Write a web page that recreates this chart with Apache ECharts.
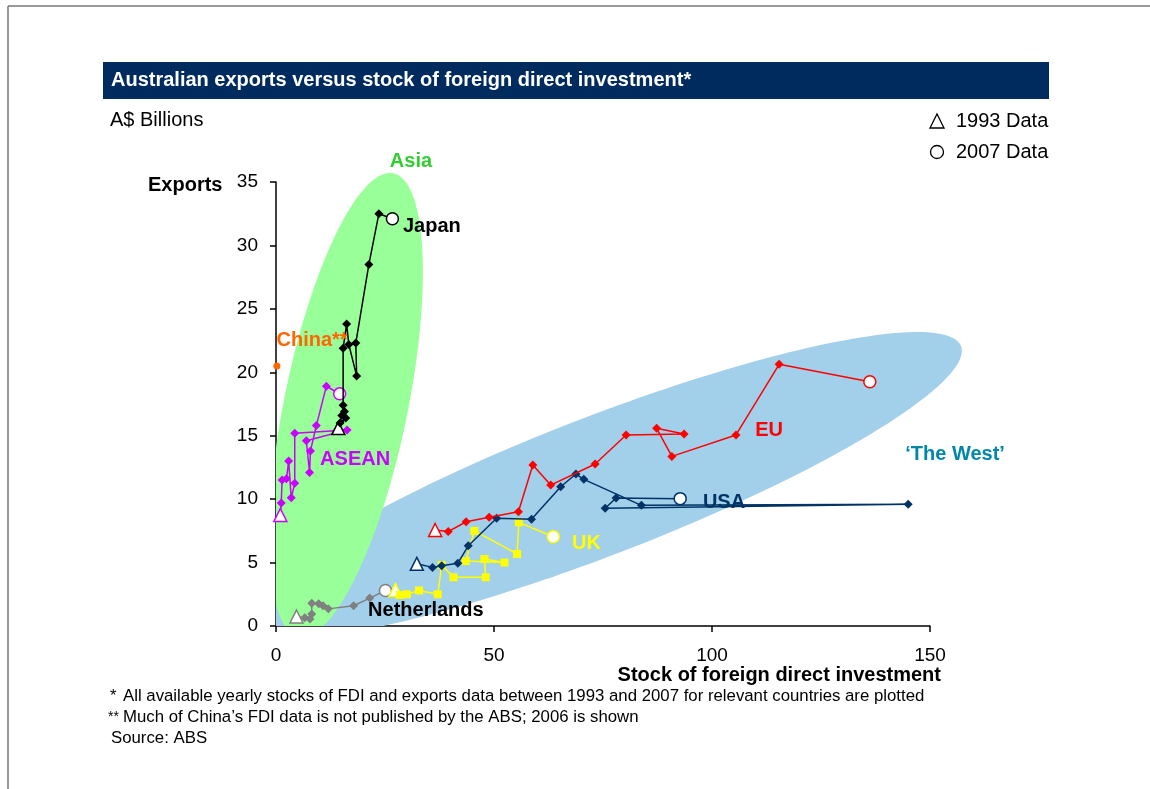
<!DOCTYPE html>
<html>
<head>
<meta charset="utf-8">
<title>Australian exports versus stock of foreign direct investment</title>
<script src="https://cdn.jsdelivr.net/npm/echarts@6/dist/echarts.min.js"></script>
<style>
  html, body { margin: 0; padding: 0; background: #ffffff; }
  #chart { width: 1150px; height: 789px; }
</style>
</head>
<body>
<div id="chart"></div>
<script>
// Stock of foreign direct investment (x) vs Australian exports (y), A$ billions.
// Each list runs from the 1993 observation to the 2007 observation.
const japan = [[14.3,15.6],[16.0,16.4],[14.7,16.0],[15.1,16.6],[15.7,16.9],[15.4,17.4],[15.4,21.9],
               [16.2,23.8],[16.7,22.2],[18.5,19.7],[18.3,22.3],[21.3,28.5],[23.6,32.5],[26.7,32.1]];
const asean = [[1.0,8.75],[1.2,9.7],[1.4,11.5],[2.4,11.6],[2.9,13.0],[3.5,10.1],[4.3,11.25],[4.3,15.2],
               [16.3,15.45],[6.95,14.6],[7.7,12.1],[7.9,13.8],[9.25,15.8],[11.55,18.9],[14.6,18.3]];
const china = [[0.2,20.5]]; // 2006 only
const netherlands = [[4.7,0.75],[6.6,0.65],[7.8,0.55],[8.2,0.95],[8.2,1.8],[9.8,1.75],[10.8,1.6],
                     [12.0,1.35],[17.8,1.6],[21.5,2.2],[25.1,2.8]];
const uk = [[27.4,2.84],[28.4,2.44],[30.0,2.5],[32.8,2.8],[37.1,2.5],[38.0,4.8],[40.7,3.84],[48.1,3.84],
            [47.8,5.28],[52.4,5.0],[43.5,5.12],[45.5,7.5],[55.3,5.68],[55.7,8.17],[63.6,7.04]];
const usa = [[32.3,4.9],[35.9,4.62],[38.0,4.75],[41.7,4.94],[44.1,6.33],[50.6,8.49],[58.6,8.41],[65.3,10.98],
             [68.8,11.98],[70.6,11.56],[83.8,9.51],[145.0,9.6],[75.5,9.28],[78.0,10.09],[92.7,10.04]];
const eu = [[36.5,7.57],[39.5,7.44],[43.6,8.22],[48.9,8.57],[55.6,9.01],[58.9,12.69],[63.0,11.11],[73.2,12.77],
            [80.3,15.06],[93.6,15.13],[87.3,15.58],[90.8,13.37],[105.5,15.06],[115.4,20.63],[136.2,19.26]];

// Axis ticks
const xTicks = [0, 50, 100, 150];
const yTicks = [0, 5, 10, 15, 20, 25, 30, 35];

const FONT = 'Arial, "Liberation Sans", Helvetica, sans-serif';

// Country trails: colour and marker used for the intermediate years
const trails = [
  { name: 'Netherlands', pts: netherlands, color: '#808080', marker: 'diamond', size: 9 },
  { name: 'UK',          pts: uk,          color: '#FFFF00', marker: 'rect',    size: 8 },
  { name: 'USA',         pts: usa,         color: '#003366', marker: 'diamond', size: 9 },
  { name: 'EU',          pts: eu,          color: '#FF0000', marker: 'diamond', size: 9 },
  { name: 'ASEAN',       pts: asean,       color: '#CC00FF', marker: 'diamond', size: 9 },
  { name: 'Japan',       pts: japan,       color: '#000000', marker: 'diamond', size: 9 }
];

// Shaded groupings, in data units: centre plus two conjugate semi-diameters
const groupings = [
  { name: 'The West', center: [74.3, 11.04], semiA: [83.0, 10.64], semiB: [0, -5.83], fill: '#A2CFEA' },
  { name: 'Asia',     center: [16.06, 17.42], semiA: [10.09, 18.29], semiB: [14.45, 0], fill: '#99FF99' }
];

// Text annotations anchored in data units (left edge, vertical middle)
const annotations = [
  { text: 'Asia',         at: [26.0, 36.65], color: '#33CC33' },
  { text: 'Japan',        at: [29.0, 31.5],  color: '#000000' },
  { text: 'China**',      at: [0, 22.5],     color: '#FF6600' },
  { text: 'ASEAN',        at: [10.0, 13.1],  color: '#CC00FF' },
  { text: 'Netherlands',  at: [21.0, 1.2],   color: '#000000' },
  { text: 'UK',           at: [67.8, 6.5],   color: '#FFFF00' },
  { text: 'USA',          at: [97.8, 9.7],   color: '#003366' },
  { text: 'EU',           at: [109.8, 15.4], color: '#FF0000' },
  { text: '\u2018The West\u2019', at: [144.2, 13.5], color: '#0088AA' }
];

// Keep the part of a polygon where coordinate `idx` is >= 0
function clipPoly(pts, idx) {
  const out = [];
  for (let i = 0; i < pts.length; i++) {
    const a = pts[i], b = pts[(i + 1) % pts.length];
    const ia = a[idx] >= 0, ib = b[idx] >= 0;
    if (ia) out.push(a);
    if (ia !== ib) {
      const t = a[idx] / (a[idx] - b[idx]);
      out.push([a[0] + t * (b[0] - a[0]), a[1] + t * (b[1] - a[1])]);
    }
  }
  return out;
}

function groupingSeries(g, z) {
  return {
    type: 'custom', name: g.name, silent: true, z: z,
    data: [[g.center[0], g.center[1]]],
    renderItem: function (params, api) {
      let pts = [];
      const n = 240;
      for (let k = 0; k < n; k++) {
        const t = (k / n) * Math.PI * 2;
        pts.push([
          g.center[0] + Math.cos(t) * g.semiA[0] + Math.sin(t) * g.semiB[0],
          g.center[1] + Math.cos(t) * g.semiA[1] + Math.sin(t) * g.semiB[1]
        ]);
      }
      pts = clipPoly(clipPoly(pts, 0), 1);
      return {
        type: 'polygon',
        shape: { points: pts.map(p => api.coord(p)) },
        style: { fill: g.fill, stroke: null }
      };
    }
  };
}

function trailSeries(c, z) {
  const last = c.pts.length - 1;
  const hollow = { color: '#ffffff', borderColor: c.color, borderWidth: 1.5 };
  return {
    type: 'line', name: c.name, z: z, showAllSymbol: true,
    symbol: c.marker, symbolSize: c.size,
    lineStyle: { color: c.color, width: 1.5 },
    itemStyle: { color: c.color },
    data: c.pts.map((p, i) => {
      if (i === 0) return { value: p, symbol: 'triangle', symbolSize: 13, itemStyle: hollow };
      if (i === last) return { value: p, symbol: 'circle', symbolSize: 12, itemStyle: hollow };
      return { value: p };
    })
  };
}

const series = [];
series.push(groupingSeries(groupings[0], 1));
series.push(groupingSeries(groupings[1], 2));
trails.forEach((c, i) => series.push(trailSeries(c, 3 + i)));
series.push({
  type: 'scatter', name: 'China', z: 10, symbol: 'circle', symbolSize: 7, clip: false,
  itemStyle: { color: '#FF6600', opacity: 1 }, data: china
});
series.push({
  type: 'scatter', name: 'annotations', z: 11, silent: true, clip: false,
  symbol: 'circle', symbolSize: 1,
  itemStyle: { color: 'rgba(0,0,0,0)', opacity: 1 },
  label: {
    show: true, position: 'right', distance: 0, align: 'left', verticalAlign: 'middle',
    fontFamily: FONT, fontWeight: 'bold', fontSize: 20, opacity: 1,
    formatter: p => annotations[p.dataIndex].text
  },
  data: annotations.map(a => ({ value: a.at, label: { color: a.color } }))
});

const axisBase = {
  type: 'value',
  axisLine: { show: true, onZero: false, lineStyle: { color: '#000', width: 1.5 } },
  axisTick: { show: true, length: 6, lineStyle: { color: '#000', width: 1.5 } },
  splitLine: { show: false },
  axisLabel: { color: '#000', fontFamily: FONT, fontSize: 19 }
};

const txt = (x, y, text, opts) => ({
  type: 'text', x: x, y: y,
  style: Object.assign({ text: text, fill: '#000', font: '20px ' + FONT,
    textAlign: 'left', textVerticalAlign: 'middle', align: 'left', verticalAlign: 'middle' }, opts || {})
});

const NOTE = '16.8px ' + FONT;

const option = {
  animation: false,
  backgroundColor: '#ffffff',
  grid: { left: 276, right: 220, top: 182, bottom: 163, containLabel: false, outerBoundsMode: 'none' },
  xAxis: Object.assign({}, axisBase, {
    min: xTicks[0], max: xTicks[xTicks.length - 1], interval: xTicks[1] - xTicks[0],
    axisLabel: Object.assign({}, axisBase.axisLabel, { margin: 20 })
  }),
  yAxis: Object.assign({}, axisBase, {
    min: yTicks[0], max: yTicks[yTicks.length - 1], interval: yTicks[1] - yTicks[0],
    axisLabel: Object.assign({}, axisBase.axisLabel, { margin: 18 })
  }),
  series: series,
  graphic: [
    // page frame
    { type: 'line', shape: { x1: 8, y1: 6, x2: 1150, y2: 6 }, style: { stroke: '#777', lineWidth: 1.5 } },
    { type: 'line', shape: { x1: 8, y1: 6, x2: 8, y2: 789 }, style: { stroke: '#777', lineWidth: 1.5 } },
    // title bar
    { type: 'rect', shape: { x: 103, y: 62, width: 946, height: 37 }, style: { fill: '#002B5E' } },
    txt(111, 80.5, 'Australian exports versus stock of foreign direct investment*',
        { fill: '#ffffff', font: 'bold 20px ' + FONT }),
    txt(110, 120, 'A$ Billions'),
    // legend for the end points
    { type: 'polygon', shape: { points: [[930, 128], [944, 128], [937, 114]] },
      style: { fill: '#fff', stroke: '#000', lineWidth: 1.3 } },
    txt(956, 121, '1993 Data'),
    { type: 'circle', shape: { cx: 937, cy: 152, r: 6.5 }, style: { fill: '#fff', stroke: '#000', lineWidth: 1.3 } },
    txt(956, 152, '2007 Data'),
    // axis names
    txt(148, 185, 'Exports', { font: 'bold 20px ' + FONT }),
    txt(941, 675, 'Stock of foreign direct investment', { font: 'bold 20px ' + FONT, textAlign: 'right', align: 'right' }),
    // notes
    txt(110, 696, '*', { font: NOTE }),
    txt(123, 696, 'All available yearly stocks of FDI and exports data between 1993 and 2007 for relevant countries are plotted', { font: NOTE }),
    txt(108, 717, '**', { font: '14px ' + FONT }),
    txt(123, 717, 'Much of China\u2019s FDI data is not published by the ABS; 2006 is shown', { font: NOTE }),
    txt(111, 738, 'Source: ABS', { font: NOTE })
  ]
};

const chart = echarts.init(document.getElementById('chart'), null, { renderer: 'canvas' });
chart.setOption(option);
</script>
</body>
</html>
